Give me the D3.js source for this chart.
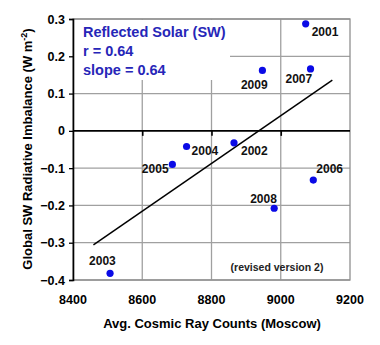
<!DOCTYPE html>
<html><head><meta charset="utf-8">
<script src="https://cdn.jsdelivr.net/npm/d3@7"></script>
<style>body{margin:0;background:#fff}svg{display:block}text{font-family:Arial,"Liberation Sans",sans-serif;font-weight:bold}</style>
</head><body>
<script>
const years = ["2001","2002","2003","2004","2005","2006","2007","2008","2009"];
const cosmicRays = [9072, 8865, 8507, 8728, 8687, 9094, 9086, 8981, 8947];
const swImbalance = [0.287, -0.032, -0.382, -0.042, -0.090, -0.132, 0.166, -0.2075, 0.162];
const labelDx = [6, 7, -21, 5, -30.5, 3, -25, -24, -21.5];
const labelDy = [8, 8, -13, 4, 4, -11, 10, -10, 14];
const fitX = [8459, 9149];
const fitY = [-0.306, 0.136];
const xTicks = [8400, 8600, 8800, 9000, 9200];
const yTicks = [-0.4, -0.3, -0.2, -0.1, 0, 0.1, 0.2, 0.3];
const infoLines = ["Reflected Solar (SW)", "r = 0.64", "slope = 0.64"];

const W = 380, H = 345;
const m = {l: 73, r: 30, t: 19, b: 65};
const svg = d3.select("body").append("svg").attr("width", W).attr("height", H);
const x = d3.scaleLinear().domain([8400, 9200]).range([m.l, W - m.r]);
const y = d3.scaleLinear().domain([-0.4, 0.3]).range([H - m.b, m.t]);

// grid
const g = svg.append("g");
g.selectAll(".vg").data(xTicks.slice(1, -1)).join("line")
  .attr("x1", d => x(d)).attr("x2", d => x(d)).attr("y1", y(0.3)).attr("y2", y(-0.4))
  .attr("stroke", "#a0a0a0").attr("stroke-width", 1.3);
g.selectAll(".hg").data(yTicks.filter(d => d !== 0)).join("line")
  .attr("x1", x(8400)).attr("x2", x(9200)).attr("y1", d => y(d)).attr("y2", d => y(d))
  .attr("stroke", "#a0a0a0").attr("stroke-width", 1.3);
// frame
svg.append("rect").attr("x", x(8400)).attr("y", y(0.3)).attr("width", x(9200) - x(8400))
  .attr("height", y(-0.4) - y(0.3)).attr("fill", "none").attr("stroke", "#909090").attr("stroke-width", 1.3);

// info box (white, hides grid)
svg.append("rect").attr("x", x(8400) + 1).attr("y", y(0.3) + 1).attr("width", 156).attr("height", 60).attr("fill", "#fff");
svg.append("g").selectAll("text").data(infoLines).join("text")
  .attr("x", 83).attr("y", (d, i) => 37 + i * 19)
  .attr("fill", "#2626b8").attr("font-size", 14.5).text(d => d);

// zero axis
const xAxisZero = d3.axisBottom(x).tickValues(xTicks.slice(1, -1)).tickSize(5).tickFormat("");
svg.append("g").attr("transform", `translate(0,${y(0)})`).call(xAxisZero)
  .call(s => s.select(".domain").attr("stroke-width", 1.6).attr("d", `M${x(8400)},0H${x(9200)}`))
  .call(s => s.selectAll(".tick line").attr("stroke-width", 1.6));

// y axis
const yAxis = d3.axisLeft(y).tickValues(yTicks).tickSize(4).tickPadding(4)
  .tickFormat(d => d === 0 ? "0" : d3.format(".1f")(d));
svg.append("g").attr("transform", `translate(${x(8400)},0)`).call(yAxis)
  .call(s => s.select(".domain").attr("stroke-width", 1.6))
  .call(s => s.selectAll(".tick line").attr("stroke-width", 1.3))
  .call(s => s.selectAll(".tick text").attr("font-size", 12.5).attr("fill", "#000").attr("font-family", null));

// x tick labels at bottom
svg.append("g").selectAll("text").data(xTicks).join("text")
  .attr("x", d => x(d)).attr("y", 304).attr("text-anchor", "middle").attr("font-size", 12.5).text(d => d);

// fit line
svg.append("line").attr("x1", x(fitX[0])).attr("y1", y(fitY[0])).attr("x2", x(fitX[1])).attr("y2", y(fitY[1]))
  .attr("stroke", "#000").attr("stroke-width", 1.5);

// points
const pts = years.map((yr, i) => ({yr, cx: cosmicRays[i], v: swImbalance[i], dx: labelDx[i], dy: labelDy[i]}));
svg.append("g").selectAll("circle").data(pts).join("circle")
  .attr("cx", d => x(d.cx)).attr("cy", d => y(d.v)).attr("r", 3.6).attr("fill", "#0a0ae6");
svg.append("g").selectAll("text").data(pts).join("text")
  .attr("x", d => x(d.cx) + d.dx).attr("y", d => y(d.v) + d.dy + 4.3)
  .attr("font-size", 12).attr("fill", "#111").text(d => d.yr);

svg.append("text").attr("x", 277).attr("y", 271).attr("text-anchor", "middle").attr("font-size", 10.5)
  .attr("fill", "#222").text("(revised version 2)");

// axis titles
svg.append("text").attr("x", 212).attr("y", 328).attr("text-anchor", "middle").attr("font-size", 13).text("Avg. Cosmic Ray Counts (Moscow)");
const yl = svg.append("text").attr("transform", "translate(32,149) rotate(-90)").attr("text-anchor", "middle").attr("font-size", 13);
yl.append("tspan").text("Global SW Radiative Imbalance (W m");
yl.append("tspan").attr("dy", -5).attr("font-size", 9).text("-2");
yl.append("tspan").attr("dy", 5).text(")");
</script>
</body></html>
